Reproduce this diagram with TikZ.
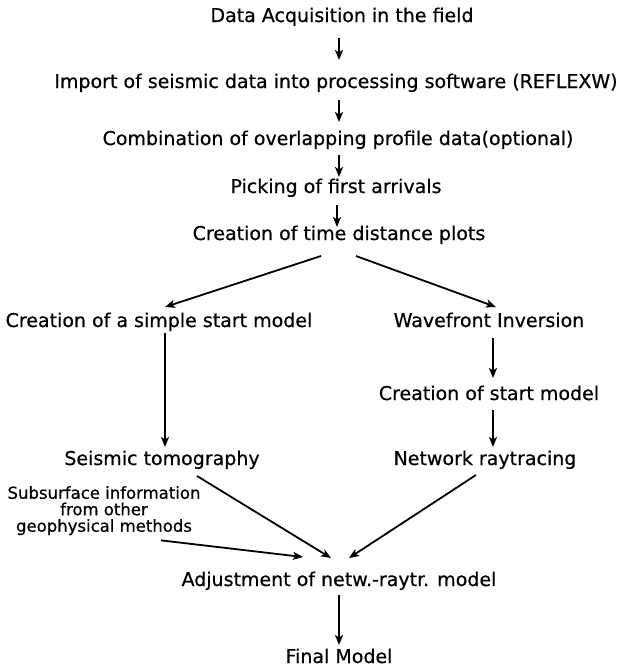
\documentclass[tikz,border=0pt]{standalone}
\usepackage{fontspec}
\setmainfont{DejaVu Sans}[FakeBold=0.6]
\usetikzlibrary{arrows.meta}
\begin{document}
\begin{tikzpicture}[x=1pt,y=-1pt,
  txt/.style={inner sep=0pt,anchor=base,font=\fontsize{19}{22}\selectfont},
  smalltxt/.style={inner sep=0pt,anchor=north,align=center,font=\fontsize{16.5}{16.5}\selectfont},
  arr/.style={line width=1.8pt,-{Stealth[length=10pt,width=8pt,inset=2.5pt]}}]
\useasboundingbox (0,0) rectangle (622,670);
\node[txt] (acq)  at (342,22)  {Data Acquisition in the field};
\node[txt] (imp)  at (336,88)  {Import of seismic data into processing software (REFLEXW)};
\node[txt] (comb) at (338,145) {Combination of overlapping profile data(optional)};
\node[txt] (pick) at (336,193) {Picking of first arrivals};
\node[txt] (tdp)  at (339,240) {Creation of time distance plots};
\node[txt] (ssm)  at (159,327) {Creation of a simple start model};
\node[txt] (wfi)  at (489,327) {Wavefront Inversion};
\node[txt] (csm)  at (489,400) {Creation of start model};
\node[txt] (tomo) at (162,465) {Seismic tomography};
\node[txt] (nrt)  at (485,465) {Network raytracing};
\node[smalltxt] (sub) at (104,486) {Subsurface information\\from other\\geophysical methods};
\node[txt] (adj)  at (339,586) {Adjustment of netw.-raytr. model};
\node[txt] (fin)  at (339,663) {Final Model};
\draw[arr] ([shift={(-3,16)}]acq.base) -- ([shift={(3,-28)}]imp.base);
\draw[arr] ([shift={(3,12)}]imp.base) -- ([shift={(1,-23)}]comb.base);
\draw[arr] ([shift={(1,10)}]comb.base) -- ([shift={(3,-16)}]pick.base);
\draw[arr] ([shift={(1,12)}]pick.base) -- ([shift={(-2,-13)}]tdp.base);
\draw[arr] ([shift={(-18,16)}]tdp.base) -- ([shift={(6,-20)}]ssm.base);
\draw[arr] ([shift={(17,16)}]tdp.base) -- ([shift={(7,-20)}]wfi.base);
\draw[arr] ([shift={(4,11)}]wfi.base) -- ([shift={(4,-22)}]csm.base);
\draw[arr] ([shift={(4,10)}]csm.base) -- ([shift={(8,-18)}]nrt.base);
\draw[arr] ([shift={(6,6)}]ssm.base) -- ([shift={(3,-18)}]tomo.base);
\draw[arr] ([shift={(35,11)}]tomo.base) -- ([shift={(-8,-28)}]adj.base);
\draw[arr] ([shift={(-9,10)}]nrt.base) -- ([shift={(10,-28)}]adj.base);
\draw[arr] ([shift={(57,5)}]sub.south) -- ([shift={(-36,-29)}]adj.base);
\draw[arr] ([shift={(0,9)}]adj.base) -- ([shift={(0,-18)}]fin.base);
\end{tikzpicture}
\end{document}
